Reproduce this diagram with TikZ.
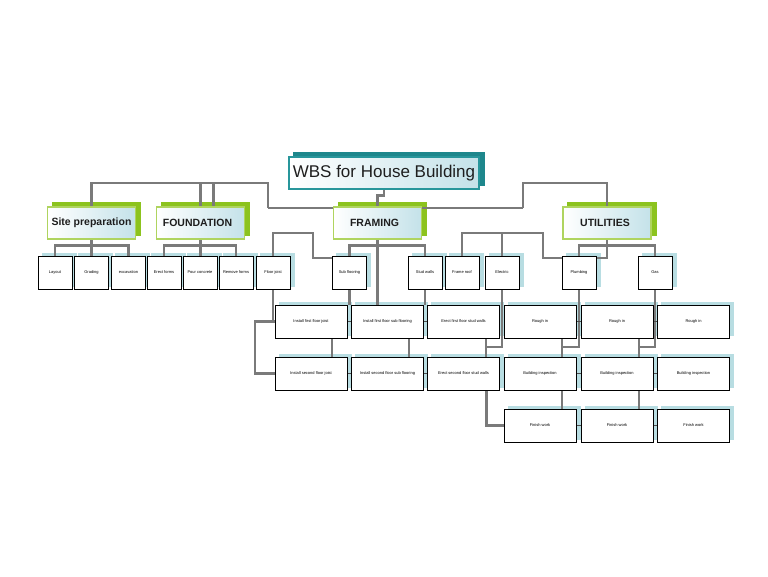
\documentclass[tikz,border=0pt]{standalone}
\usepackage{fontspec}
\setmainfont{Liberation Sans}
\usetikzlibrary{calc}
\pgfdeclarelayer{shadowlayer}
\pgfdeclarelayer{connlayer}
\pgfsetlayers{shadowlayer,connlayer,main}
\definecolor{linegray}{RGB}{122,122,122}
\definecolor{rootborder}{RGB}{40,150,155}
\definecolor{rootshadow}{RGB}{30,135,140}
\definecolor{lvlborder}{RGB}{175,212,95}
\definecolor{lvlshadow}{RGB}{140,195,30}
\definecolor{boxfill}{RGB}{196,226,233}
\definecolor{smallshadow}{RGB}{184,221,226}
\definecolor{textdark}{RGB}{30,30,30}
\begin{document}
\begin{tikzpicture}[x=1pt,y=-1pt,
  rootbox/.style={draw=rootborder, line width=1.3pt, left color=white, right color=boxfill, minimum width=190pt, minimum height=32pt, inner sep=0pt, text=textdark, font=\fontsize{17}{20}\selectfont},
  lvlbox/.style={draw=lvlborder, line width=1.3pt, left color=white, right color=boxfill, minimum width=88pt, minimum height=32pt, inner sep=0pt, text=textdark, font=\fontsize{10.5}{12}\selectfont\bfseries},
  taskbox/.style={draw=black, line width=1pt, fill=white, minimum width=34pt, minimum height=33pt, inner sep=0pt, font=\fontsize{4}{5}\selectfont},
  workbox/.style={taskbox, minimum width=72pt},
  conn/.style={draw=linegray, line width=2.4pt},
  stub/.style={draw=black!70, line width=0.8pt}]
\useasboundingbox (0,0) rectangle (768,576);

% root and level 1
\node[rootbox] (root) at (384,173) {WBS for House Building};
\node[lvlbox] (sp) at (91.5,223) {Site preparation};
\node[lvlbox] (fd) at (200.5,223) {\hspace*{-6pt}FOUNDATION};
\node[lvlbox] (fr) at (377.5,223) {\hspace*{-6pt}FRAMING};
\node[lvlbox] (ut) at (607,223) {\hspace*{-4pt}UTILITIES};

% level 2
\node[taskbox] (lay) at (55,272.5) {Layout};
\node[taskbox] (gra) at (91.5,272.5) {Grading};
\node[taskbox] (exc) at (128.5,272.5) {excavation};
\node[taskbox] (ef) at (164,272.5) {Erect forms};
\node[taskbox] (pc) at (200,272.5) {Pour concrete};
\node[taskbox] (rf) at (236,272.5) {Remove forms};
\node[taskbox] (fj) at (273,272.5) {Floor joist};
\node[taskbox] (sf) at (349.5,272.5) {Sub flooring};
\node[taskbox] (sw) at (425,272.5) {Stud walls};
\node[taskbox] (fro) at (462,272.5) {Frame roof};
\node[taskbox] (el) at (502,272.5) {Electric};
\node[taskbox] (pl) at (579,272.5) {Plumbing};
\node[taskbox] (gas) at (655,272.5) {Gas};

% level 3
\node[workbox] (c1r1) at (311,321.5) {Install first floor joist};
\node[workbox] (c2r1) at (387.5,321.5) {Install first floor sub flooring};
\node[workbox] (c3r1) at (463.5,321.5) {Erect first floor stud walls};
\node[workbox] (c4r1) at (540,321.5) {Rough in};
\node[workbox] (c5r1) at (617,321.5) {Rough in};
\node[workbox] (c6r1) at (693.5,321.5) {Rough in};
\node[workbox] (c1r2) at (311,373.5) {Install second floor joist};
\node[workbox] (c2r2) at (387.5,373.5) {Install second floor sub flooring};
\node[workbox] (c3r2) at (463.5,373.5) {Erect second floor stud walls};
\node[workbox] (c4r2) at (540,373.5) {Building inspection};
\node[workbox] (c5r2) at (617,373.5) {Building inspection};
\node[workbox] (c6r2) at (693.5,373.5) {Building inspection};
\node[workbox] (c4r3) at (540,425.5) {Finish work};
\node[workbox] (c5r3) at (617,425.5) {Finish work};
\node[workbox] (c6r3) at (693.5,425.5) {Finish work};

% shadows
\begin{pgfonlayer}{shadowlayer}
\fill[rootshadow] ([shift={(5,-4)}]root.south west) rectangle ([shift={(5,-4)}]root.north east);
\foreach \n in {sp,fd,fr,ut}
  \fill[lvlshadow] ([shift={(5,-4)}]\n.south west) rectangle ([shift={(5,-4)}]\n.north east);
\foreach \n in {lay,gra,exc,ef,pc,rf,fj,sf,sw,fro,el,pl,gas,c1r1,c2r1,c3r1,c4r1,c5r1,c6r1,c1r2,c2r2,c3r2,c4r2,c5r2,c6r2,c4r3,c5r3,c6r3}
  \fill[smallshadow] ([shift={(4,-3)}]\n.south west) rectangle ([shift={(4,-3)}]\n.north east);
\end{pgfonlayer}

% connectors
\begin{pgfonlayer}{connlayer}
\coordinate (busL) at (268,208);
\coordinate (busR) at (523,208);
\coordinate (topy) at (0,183);
\coordinate (y233) at (0,233);
\coordinate (y258) at (0,258);
\coordinate (y347) at (0,347);
\coordinate (fdr) at ([xshift=13pt]fd.north);
\coordinate (fjk) at (313,258);
\coordinate (frk) at (543,258);
\coordinate (fjl) at (255,321.5);
\coordinate (v1) at (332,0);
\coordinate (v2) at (409,0);
\coordinate (v3) at (486,0);
\coordinate (v4) at (562,0);
\coordinate (v5) at (639,0);

% root to level 1
\draw[conn] (root.south) -- ++(0,6) -| (fr.north);
\draw[conn] (busL) -- (busR);
\draw[conn] (sp.north) |- (busL |- topy) -- (busL);
\draw[conn] (fd.north) -- (fd.north |- topy);
\draw[conn] (fdr) -- (fdr |- topy);
\draw[conn] (busR) |- (ut.north |- topy) -- (ut.north);

% level 1 to level 2
\draw[conn] (sp.south) -- ++(0,6) coordinate (spb);
\draw[conn] (lay.north) |- (spb) -| (exc.north);
\draw[conn] (spb) -- (gra.north);
\draw[conn] (fd.south) -- ++(0,6) coordinate (fdb);
\draw[conn] (ef.north) |- (fdb) -| (rf.north);
\draw[conn] (fdb) -- (fdb |- pc.north);
\draw[conn] (fr.south) -- (fr.south |- c2r1.north);
\coordinate (frb) at ($(fr.south)+(0,6)$);
\draw[conn] (sf.north) |- (frb) -| (sw.north);
\draw[conn] (ut.south) -- ++(0,6) coordinate (utb);
\draw[conn] (pl.north) |- (utb) -| (gas.north);
\draw[conn] (utb) -- (utb |- y258) -- (pl.east |- y258);

% cross links at level 2
\draw[conn] (fj.north) -- (fj.north |- y233) -| (fjk) -- (sf.west |- y258);
\draw[conn] (fro.north) -- (fro.north |- y233) -| (frk) -- (pl.west |- y258);
\draw[conn] (el.north) -- (el.north |- y233);

% level 2 to level 3
\draw[conn] (fj.south) |- (c1r1.west);
\draw[conn] (c1r1.west) -- (fjl) |- (c1r2.west);
\draw[conn] (sf.south) -- (sf.south |- c2r1.north);
\draw[conn] (sw.south) -- (sw.south |- c3r1.north);
\draw[conn] (el.south) |- (v3 |- y347);
\draw[conn] (pl.south) |- (v4 |- y347);
\draw[conn] (gas.south) |- (v5 |- y347);

% level 3 vertical links
\draw[conn] (v1 |- c1r1.south) -- (v1 |- c1r2.north);
\draw[conn] (v2 |- c2r1.south) -- (v2 |- c2r2.north);
\draw[conn] (v3 |- c3r1.south) -- (v3 |- c3r2.north);
\draw[conn] (v4 |- c4r1.south) -- (v4 |- c4r2.north);
\draw[conn] (v5 |- c5r1.south) -- (v5 |- c5r2.north);
\draw[conn] (v4 |- c4r2.south) -- (v4 |- c4r3.north);
\draw[conn] (v5 |- c5r2.south) -- (v5 |- c5r3.north);
\draw[conn, line width=3pt] (v3 |- c3r2.south) |- (c4r3.west);

% short links between neighbouring boxes
\foreach \a/\b in {c1r1/c2r1,c2r1/c3r1,c4r1/c5r1,c5r1/c6r1,c1r2/c2r2,c2r2/c3r2,c4r2/c5r2,c5r2/c6r2,c4r3/c5r3,c5r3/c6r3}
  \draw[stub] (\a.east) -- (\b.west);
\end{pgfonlayer}
\end{tikzpicture}
\end{document}
